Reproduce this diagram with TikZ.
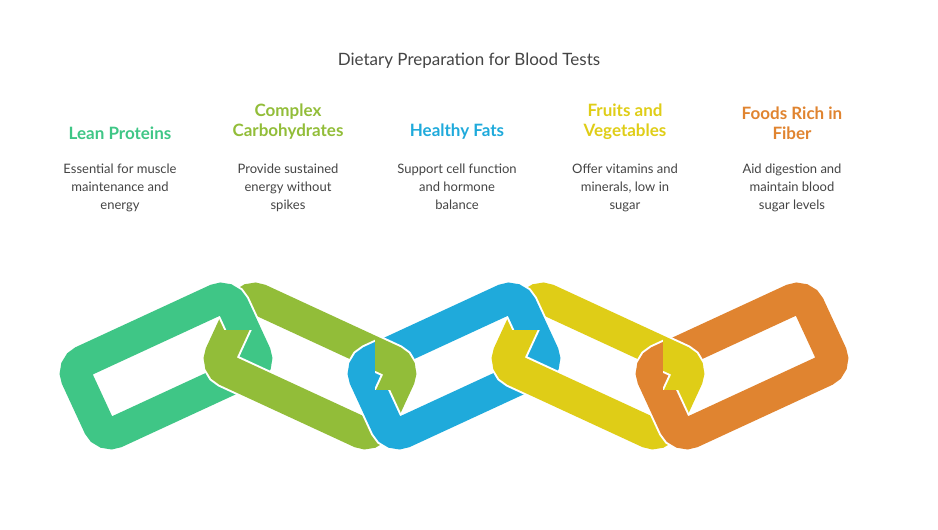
\documentclass[tikz,border=0pt]{standalone}
\usepackage{fontspec}
\setmainfont{Lato}
\definecolor{cgreen}{HTML}{3FC686}
\definecolor{clime}{HTML}{92BD39}
\definecolor{cblue}{HTML}{1FAADB}
\definecolor{cyellow}{HTML}{DFCD17}
\definecolor{corange}{HTML}{E08430}
\definecolor{ctext}{HTML}{444444}
\tikzset{
  heading/.style = {font=\fontsize{17}{20}\selectfont\bfseries, align=center, anchor=south},
  desc/.style = {font=\fontsize{13}{18}\selectfont, text=ctext, align=center, anchor=north},
}
% one link: centre x, angle, colour
\newcommand{\chainlink}[3]{
  \draw[rotate around={#2:(#1,164)}, line width=36, white, rounded corners=13]
    (#1-86,164-39) rectangle (#1+86,164+39);
  \draw[rotate around={#2:(#1,164)}, line width=32, #3, rounded corners=13]
    (#1-86,164-39) rectangle (#1+86,164+39);
}
\begin{document}
\begin{tikzpicture}[x=1pt, y=1pt]
                \useasboundingbox (0,0) rectangle (938,530);
                \node[font=\fontsize{17}{20}\selectfont, text=ctext] (title) at (469,469) {Dietary Preparation for Blood Tests};
                \node[heading, text=cgreen] (lean) at (120,387) {Lean Proteins};
                \node[heading, text=clime] (carb) at (288,387) {Complex\\Carbohydrates};
                \node[heading, text=cblue] (fats) at (457,387) {Healthy Fats};
                \node[heading, text=cyellow] (fruit) at (625,387) {Fruits and\\Vegetables};
                \node[heading, text=corange] (fiber) at (792,387) {Foods Rich in\\Fiber};
                \node[desc] (leand) at (120,370) {Essential for muscle\\maintenance and\\energy};
                \node[desc] (carbd) at (288,370) {Provide sustained\\energy without\\spikes};
                \node[desc] (fatsd) at (457,370) {Support cell function\\and hormone\\balance};
                \node[desc] (fruitd) at (625,370) {Offer vitamins and\\minerals, low in\\sugar};
                \node[desc] (fiberd) at (792,370) {Aid digestion and\\maintain blood\\sugar levels};
                % the chain
                \chainlink{166}{24.8}{cgreen}
                \chainlink{310}{-24.8}{clime}
                \chainlink{454}{24.8}{cblue}
                \chainlink{598}{-24.8}{cyellow}
                \chainlink{742}{24.8}{corange}
                % left link over at the top crossing
                \begin{scope}
                    \clip (206,200) rectangle (280,270);
                    \chainlink{166}{24.8}{cgreen}
                \end{scope}
                \begin{scope}
                    \clip (375,140) rectangle (440,215);
                    \chainlink{310}{-24.8}{clime}
                \end{scope}
                \begin{scope}
                    \clip (494,200) rectangle (568,270);
                    \chainlink{454}{24.8}{cblue}
                \end{scope}
                \begin{scope}
                    \clip (663,140) rectangle (728,215);
                    \chainlink{598}{-24.8}{cyellow}
                \end{scope}
            \end{tikzpicture}
\end{document}
